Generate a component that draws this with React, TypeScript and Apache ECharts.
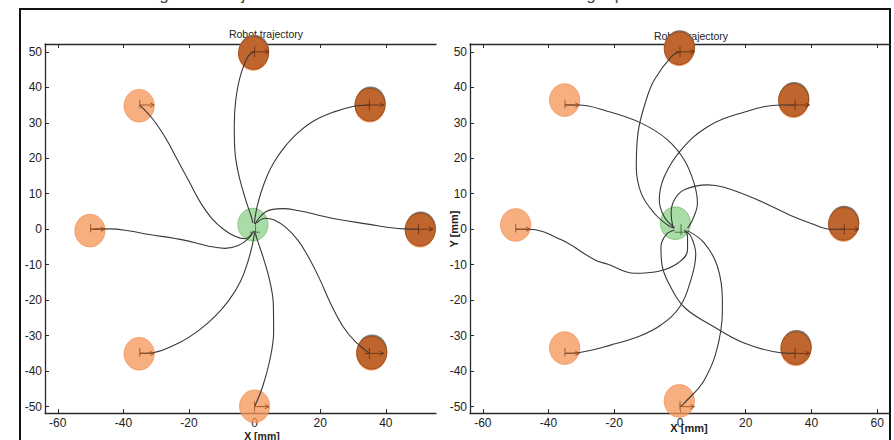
import React, { useEffect, useRef } from "react";
import * as echarts from "echarts";

// ---------- data ----------
const xTickValues = [-60, -40, -20, 0, 20, 40, 60];
const yTickValues = [-50, -40, -30, -20, -10, 0, 10, 20, 30, 40, 50];

const targetsLight = [[-35, 35], [-50, 0], [-35, -35], [0, -50]];
const targetsDark = [[0, 50], [35, 35], [50, 0], [35, -35]];

// left panel: robot bodies
const leftLight = [[-35.2, 34.8], [-50.2, -0.4], [-35.2, -35.1], [0, -49.9]];
const leftDark = [[-0.3, 49.7], [35.2, 35.1], [50.5, -0.1], [35.7, -34.8]];
const leftCenter = [[-0.5, 1.3]];

// right panel: robot bodies
const rightLight = [[-35.1, 36.4], [-50, 1.2], [-35.1, -33.5], [-0.2, -48.4]];
const rightDark = [[-0.2, 51], [34.6, 36.4], [49.8, 1.5], [35.3, -33.5]];
const rightCenter = [[-1.4, 1.7]];

// left panel trajectories
const leftPaths = [
  [[-35, 35], [-31, 31], [-27, 25.5], [-23.5, 19.5], [-20, 13.5], [-16.5, 7.5], [-13, 3], [-9.5, 0], [-6, -2], [-3, -2.7], [-0.5, -0.8]],
  [[-50, 0], [-44.3, 0.1], [-38, -0.5], [-32.1, -1.5], [-21.9, -3], [-14, -4.8], [-9, -5.4], [-5, -4.6], [-2, -2.7], [-0.2, -0.5]],
  [[-35, -35], [-31, -34.8], [-23, -32], [-17, -28.5], [-12, -24.5], [-7.8, -20], [-4.2, -14.5], [-2, -9], [-0.7, -4.5], [0, -1]],
  [[0, -50], [2.5, -44.2], [4.6, -37], [5.8, -29], [5.7, -21], [4.6, -14.5], [2.8, -8.5], [1, -3.5], [0, -0.5]],
  [[35, -35], [30.5, -31.5], [27, -27.5], [23.2, -21], [19.8, -14], [16.5, -8], [13.3, -3.2], [9.5, 0.5], [6, 2.6], [3.3, 3.1], [0.6, 1.8]],
  [[50, 0], [45.4, 0.1], [34, 1.5], [24, 3], [18.9, 4.1], [13.5, 5.2], [8.7, 5.8], [5.5, 5.6], [3.4, 4.9], [1.5, 3.3], [0.2, 1.5]],
  [[35, 35], [30, 34.6], [24, 33], [18, 30.5], [13, 27], [9, 23], [6, 19], [3.8, 15], [2, 10.5], [0.8, 6.5], [0.1, 3], [0, 1.5]],
  [[0, 50], [-2, 48.7], [-4.4, 43], [-5.8, 36], [-6.2, 29], [-6, 22], [-5, 16], [-3.6, 11], [-2.2, 6.8], [-1.1, 3.8], [-0.5, 1.8]],
];

// right panel trajectories
const rightPaths = [
  [[-35, 35], [-31, 35], [-21.9, 33.2], [-11.8, 29.9], [-3.8, 25.2], [1.3, 19.5], [4.3, 12.9], [5.3, 7.3], [3.8, 2.6], [2.3, 0.3]],
  [[0, 50], [-2.7, 48.6], [-7.8, 42.1], [-10.3, 36.4], [-12.8, 27], [-13.3, 17.6], [-11.8, 10.1], [-7.8, 4.5], [-3.8, 1.2], [-1.7, 0.3]],
  [[35, 35], [30.6, 35], [18.5, 32.7], [8.4, 28.9], [0.3, 22.3], [-4.8, 14.8], [-6.3, 8.3], [-4.8, 3.5], [-1.7, 0.5]],
  [[50, 0], [45.8, 0], [39.7, 1.7], [34.6, 3.5], [23.5, 8.3], [13.4, 11.8], [8.4, 12.5], [1.3, 11.1], [-1.7, 8.3], [-2.7, 4.5], [-2.2, 0.7]],
  [[35, -35], [30.6, -34.8], [19.5, -32.1], [9.4, -27], [1.3, -22], [-3, -16], [-5.5, -10], [-5.8, -5], [-4.2, -1.5], [-1.7, -0.3]],
  [[0, -50], [1.3, -49], [7.4, -42.5], [11.9, -31.2], [12.9, -20], [11.4, -10.5], [7.4, -3.9], [2.3, -0.4]],
  [[-35, -35], [-31, -34.8], [-20.9, -32.6], [-12, -30], [-5.8, -27], [0, -21.8], [3.3, -14.3], [4.8, -7], [3.5, -2.3], [1.8, -0.5]],
  [[-50, 0], [-46.2, 0], [-36.1, -3], [-26, -8.6], [-21.9, -9.9], [-13.8, -12.4], [-6.8, -11.9], [-0.7, -9.6], [2.3, -5.8], [2.3, -2.1], [1.3, -0.2]],
];

const titleText = "Robot trajectory";
const xName = "X [mm]";
const yName = "Y [mm]";
const captionText = "Figure 6: Trajectories of the robot from the center to the target position of the circle";

// ---------- styles ----------
const FONT = "'Liberation Sans', Arial, Helvetica, sans-serif";
const AXIS_COLOR = "#2a2a2a";
const BODY_R = 4.6;

function bottomXAxis(gridIndex: number, min: number, max: number) {
  const vals = xTickValues.filter((v) => v >= min && v <= max);
  return {
    type: "value",
    gridIndex,
    min,
    max,
    position: "bottom",
    axisLine: { show: true, onZero: false, lineStyle: { color: AXIS_COLOR, width: 1.3 } },
    axisTick: { show: true, inside: true, length: 4, customValues: vals, lineStyle: { color: AXIS_COLOR, width: 1 } },
    axisLabel: { show: true, customValues: vals, color: "#222", fontSize: 12, fontFamily: FONT, margin: 4 },
    splitLine: { show: false },
  };
}

function topXAxis(gridIndex: number, min: number, max: number) {
  const vals = xTickValues.filter((v) => v >= min && v <= max);
  return {
    type: "value",
    gridIndex,
    min,
    max,
    position: "top",
    axisLine: { show: true, onZero: false, lineStyle: { color: AXIS_COLOR, width: 1.3 } },
    axisTick: { show: true, inside: true, length: 4, customValues: vals, lineStyle: { color: AXIS_COLOR, width: 1 } },
    axisLabel: { show: false },
    splitLine: { show: false },
  };
}

function leftYAxis(gridIndex: number, min: number, max: number) {
  return {
    type: "value",
    gridIndex,
    min,
    max,
    position: "left",
    axisLine: { show: true, onZero: false, lineStyle: { color: AXIS_COLOR, width: 1.3 } },
    axisTick: { show: true, inside: true, length: 4, customValues: yTickValues, lineStyle: { color: AXIS_COLOR, width: 1 } },
    axisLabel: { show: true, customValues: yTickValues, color: "#222", fontSize: 12, fontFamily: FONT, margin: 3 },
    splitLine: { show: false },
  };
}

function bodySeries(xi: number, data: number[][], kind: string) {
  return {
    type: "custom",
    xAxisIndex: xi,
    yAxisIndex: xi,
    data,
    z: 2,
    silent: true,
    clip: false,
    renderItem: (_params: any, api: any) => {
      const c = api.coord([api.value(0), api.value(1)]);
      const s = api.size([BODY_R, BODY_R]);
      const rx = s[0];
      const ry = s[1];
      if (kind === "light") {
        return {
          type: "ellipse",
          shape: { cx: c[0], cy: c[1], rx, ry },
          style: { fill: "rgba(246,150,88,0.76)", stroke: "rgba(236,138,78,0.7)", lineWidth: 1 },
        };
      }
      if (kind === "green") {
        return {
          type: "ellipse",
          shape: { cx: c[0], cy: c[1], rx, ry },
          style: { fill: "rgba(112,196,108,0.6)", stroke: "rgba(96,176,92,0.6)", lineWidth: 1 },
        };
      }
      return {
        type: "group",
        children: [
          {
            type: "ellipse",
            shape: { cx: c[0] + 0.5, cy: c[1] - 1.8, rx, ry },
            style: { fill: "#7f7772" },
          },
          {
            type: "ellipse",
            shape: { cx: c[0] - 0.3, cy: c[1] + 1.6, rx, ry },
            style: { fill: "#f39a5c" },
          },
          {
            type: "ellipse",
            shape: { cx: c[0], cy: c[1], rx, ry },
            style: { fill: "#bf652e", stroke: "#a14e1e", lineWidth: 1 },
          },
        ],
      };
    },
  };
}

function markerSeries(xi: number, data: number[][], kind: string) {
  return {
    type: "custom",
    xAxisIndex: xi,
    yAxisIndex: xi,
    data,
    z: 4,
    silent: true,
    clip: false,
    renderItem: (_params: any, api: any) => {
      const c = api.coord([api.value(0), api.value(1)]);
      const s = api.size([BODY_R, BODY_R]);
      const len = s[0] * 0.95;
      const h = s[1] * 0.33;
      const col = kind === "dark" ? "#6a3316" : "#9a5024";
      const startX = kind === "dark" ? c[0] - s[0] * 0.3 : c[0];
      const tipX = c[0] + len;
      const yTop = c[1] - h;
      const yBot = kind === "dark" ? c[1] + h : c[1] + h * 0.6;
      return {
        type: "group",
        children: [
          { type: "line", shape: { x1: c[0], y1: yTop, x2: c[0], y2: yBot }, style: { stroke: col, lineWidth: 0.9 } },
          { type: "line", shape: { x1: startX, y1: c[1], x2: tipX, y2: c[1] }, style: { stroke: col, lineWidth: 0.9 } },
          {
            type: "polyline",
            shape: { points: [[tipX - 4, c[1] - 2.2], [tipX, c[1]], [tipX - 4, c[1] + 2.2]] },
            style: { stroke: col, lineWidth: 0.9, fill: "none" },
          },
        ],
      };
    },
  };
}

function centerMarkerSeries(xi: number, data: number[][]) {
  return {
    type: "custom",
    xAxisIndex: xi,
    yAxisIndex: xi,
    data,
    z: 4,
    silent: true,
    renderItem: (_params: any, api: any) => {
      const c = api.coord([api.value(0), api.value(1)]);
      const col = "#3f6a3a";
      return {
        type: "group",
        children: [
          { type: "line", shape: { x1: c[0] - 5, y1: c[1] + 3, x2: c[0] + 5, y2: c[1] + 3 }, style: { stroke: col, lineWidth: 0.9 } },
          { type: "line", shape: { x1: c[0] + 1, y1: c[1] - 5, x2: c[0] + 1, y2: c[1] + 6 }, style: { stroke: col, lineWidth: 0.9 } },
        ],
      };
    },
  };
}

function pathSeries(xi: number, path: number[][]) {
  return {
    type: "line",
    xAxisIndex: xi,
    yAxisIndex: xi,
    data: path,
    smooth: 0.4,
    symbol: "none",
    showSymbol: false,
    silent: true,
    z: 3,
    lineStyle: { color: "#383838", width: 1.1 },
  };
}

export default function App() {
  const ref = useRef<HTMLDivElement | null>(null);

  useEffect(() => {
    if (!ref.current) return;
    const chart = echarts.init(ref.current, null, { renderer: "svg" });

    const series: any[] = [
      bodySeries(0, leftLight, "light"),
      bodySeries(0, leftDark, "dark"),
      bodySeries(0, leftCenter, "green"),
      bodySeries(1, rightLight, "light"),
      bodySeries(1, rightDark, "dark"),
      bodySeries(1, rightCenter, "green"),
      ...leftPaths.map((p) => pathSeries(0, p)),
      ...rightPaths.map((p) => pathSeries(1, p)),
      markerSeries(0, targetsLight, "light"),
      markerSeries(0, targetsDark, "dark"),
      markerSeries(1, targetsLight, "light"),
      markerSeries(1, targetsDark, "dark"),
      centerMarkerSeries(0, [[0, 0]]),
      centerMarkerSeries(1, [[0, 0]]),
    ];

    const textStyleTitle = { fontSize: 10.5, fontFamily: FONT, fill: "#222" };

    chart.setOption({
      animation: false,
      backgroundColor: "#ffffff",
      grid: [
        { left: 45, top: 44, width: 391, height: 369, containLabel: false },
        { left: 470, top: 44, width: 420, height: 369, containLabel: false },
      ],
      xAxis: [
        bottomXAxis(0, -63.9, 55.3),
        bottomXAxis(1, -63.9, 63.9),
        topXAxis(0, -63.9, 55.3),
        topXAxis(1, -63.9, 63.9),
      ],
      yAxis: [leftYAxis(0, -51.8, 52.2), leftYAxis(1, -51.8, 52.2)],
      series,
      graphic: [
        // outer frame
        { type: "line", shape: { x1: 20, y1: 9, x2: 20, y2: 440 }, style: { stroke: "#111", lineWidth: 2 } },
        { type: "line", shape: { x1: 19, y1: 9, x2: 891, y2: 9 }, style: { stroke: "#111", lineWidth: 2 } },
        { type: "line", shape: { x1: 890, y1: 9, x2: 890, y2: 440 }, style: { stroke: "#111", lineWidth: 2 } },
        // caption above the frame (cut by the page edge, as in the reference)
        {
          type: "text",
          x: 455,
          y: 3,
          style: { text: captionText, fontSize: 17, fontFamily: FONT, fill: "#444", align: "center", verticalAlign: "bottom" },
        },
        // titles
        { type: "text", x: 266, y: 33.5, style: { ...textStyleTitle, text: titleText, align: "center", verticalAlign: "middle" } },
        { type: "text", x: 691, y: 36, style: { ...textStyleTitle, text: titleText, align: "center", verticalAlign: "middle" } },
        // axis names
        {
          type: "text",
          x: 262,
          y: 435.5,
          style: { text: xName, fontSize: 10.5, fontWeight: "bold", fontFamily: FONT, fill: "#222", align: "center", verticalAlign: "middle" },
        },
        {
          type: "text",
          x: 689,
          y: 428,
          style: { text: xName, fontSize: 11, fontWeight: "bold", fontFamily: FONT, fill: "#222", align: "center", verticalAlign: "middle" },
        },
        {
          type: "text",
          x: 454,
          y: 229,
          rotation: Math.PI / 2,
          style: { text: yName, fontSize: 11, fontWeight: "bold", fontFamily: FONT, fill: "#222", align: "center", verticalAlign: "middle" },
        },
      ],
    });

    return () => {
      chart.dispose();
    };
  }, []);

  return (
    <div
      ref={ref}
      style={{ position: "fixed", left: 0, top: 0, width: 894, height: 440, background: "#fff" }}
    />
  );
}
